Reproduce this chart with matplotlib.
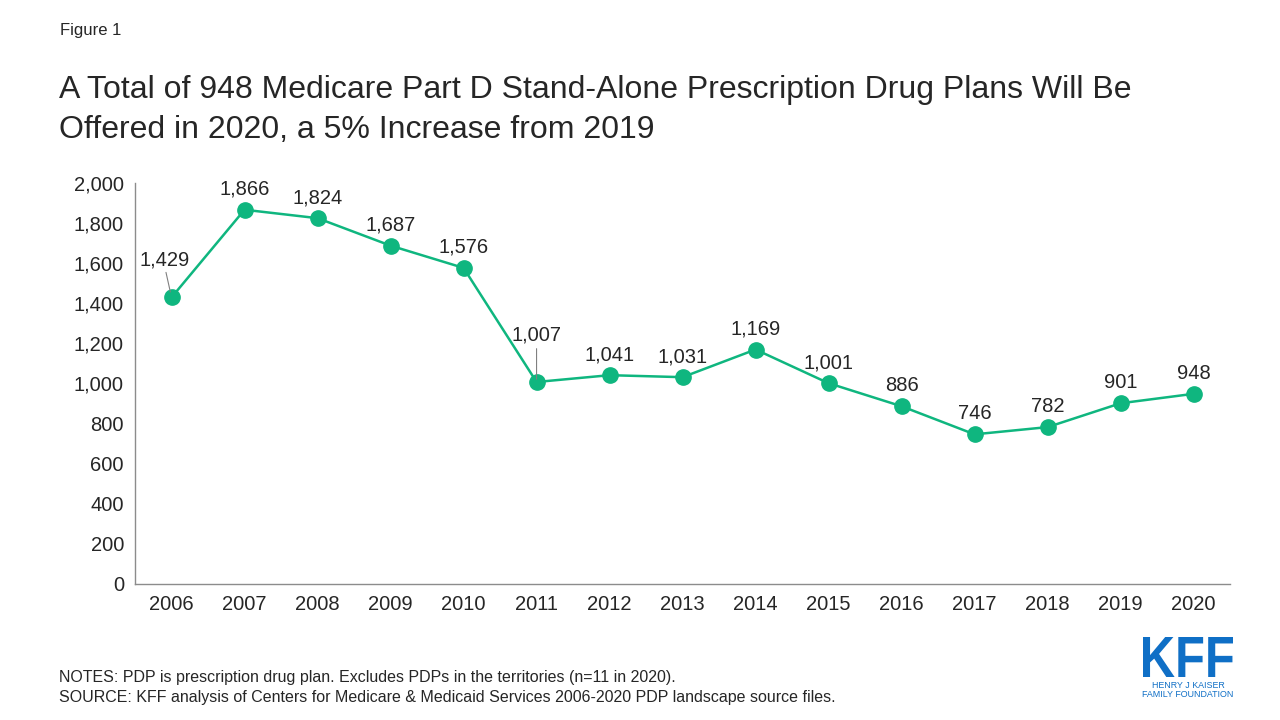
import matplotlib.pyplot as plt
from matplotlib.textpath import TextPath
from matplotlib.patches import PathPatch
from matplotlib.font_manager import FontProperties
from matplotlib.transforms import Affine2D

plt.rcParams['font.family'] = ['Liberation Sans', 'DejaVu Sans']

years = ['2006', '2007', '2008', '2009', '2010', '2011', '2012', '2013',
         '2014', '2015', '2016', '2017', '2018', '2019', '2020']
plans = [1429, 1866, 1824, 1687, 1576, 1007, 1041, 1031, 1169, 1001,
         886, 746, 782, 901, 948]
yticks = [0, 200, 400, 600, 800, 1000, 1200, 1400, 1600, 1800, 2000]

green = '#0fb67f'
txt = '#262626'

fig = plt.figure(figsize=(12.8, 7.2), dpi=100)
ax = fig.add_axes([0.1055, 0.189, 0.8555, 0.557])

x = list(range(len(years)))
ax.plot(x, plans, color=green, lw=1.8, marker='o', markersize=11,
        markerfacecolor=green, markeredgecolor=green, zorder=3)

# data labels; two of them sit higher with a leader line
for i, v in enumerate(plans):
    lab = f'{v:,}'
    if i == 0:
        ax.annotate(lab, (i, v), xytext=(-5, 20), textcoords='offset points',
                    ha='center', va='bottom', fontsize=14.5, color=txt)
        ax.annotate('', (i, v), xytext=(-4, 18), textcoords='offset points',
                    arrowprops=dict(arrowstyle='-', color='#808080', lw=0.8,
                                    shrinkA=0, shrinkB=4))
    elif i == 5:
        ax.annotate(lab, (i, v), xytext=(0, 27), textcoords='offset points',
                    ha='center', va='bottom', fontsize=14.5, color=txt)
        ax.annotate('', (i, v), xytext=(0, 24), textcoords='offset points',
                    arrowprops=dict(arrowstyle='-', color='#808080', lw=0.8,
                                    shrinkA=0, shrinkB=2))
    else:
        ax.annotate(lab, (i, v), xytext=(0, 8), textcoords='offset points',
                    ha='center', va='bottom', fontsize=14.5, color=txt)

ax.set_xlim(-0.5, len(years) - 0.5)
ax.set_ylim(0, 2000)
ax.set_xticks(x)
ax.set_xticklabels(years)
ax.set_yticks(yticks)
ax.set_yticklabels([f'{t:,}' for t in yticks])
ax.tick_params(length=0, labelsize=14.5, colors=txt, pad=8)
for s in ['top', 'right']:
    ax.spines[s].set_visible(False)
for s in ['left', 'bottom']:
    ax.spines[s].set_color('#8c8c8c')
    ax.spines[s].set_linewidth(1)

fig.text(0.047, 0.957, 'Figure 1', fontsize=12, color=txt, va='center')
fig.text(0.046, 0.896,
         'A Total of 948 Medicare Part D Stand-Alone Prescription Drug Plans Will Be\n'
         'Offered in 2020, a 5% Increase from 2019',
         fontsize=23, color=txt, linespacing=1.42, va='top')
fig.text(0.046, 0.025,
         'NOTES: PDP is prescription drug plan. Excludes PDPs in the territories (n=11 in 2020).\n'
         'SOURCE: KFF analysis of Centers for Medicare & Medicaid Services 2006-2020 PDP landscape source files.',
         fontsize=11.5, color=txt, linespacing=1.45)

# KFF logo, letters squeezed horizontally
blue = '#0f6fc6'
tp = TextPath((0, 0), 'KFF', size=40,
              prop=FontProperties(family='Liberation Sans', weight='bold'))
bb = tp.get_extents()
sx = 90 / bb.width
sy = 40 / bb.height
tr = Affine2D().translate(-bb.x0, -bb.y0).scale(sx, sy).translate(1143, 720 - 677)
fig.patches.append(PathPatch(tr.transform_path(tp), facecolor=blue, lw=0,
                             transform=None, figure=fig))
fig.text(1188 / 1280, 1 - 681 / 720, 'HENRY J KAISER\nFAMILY FOUNDATION',
         fontsize=6.4, color=blue, ha='center', va='top', linespacing=1.05)

fig.savefig('out.png', dpi=100)
